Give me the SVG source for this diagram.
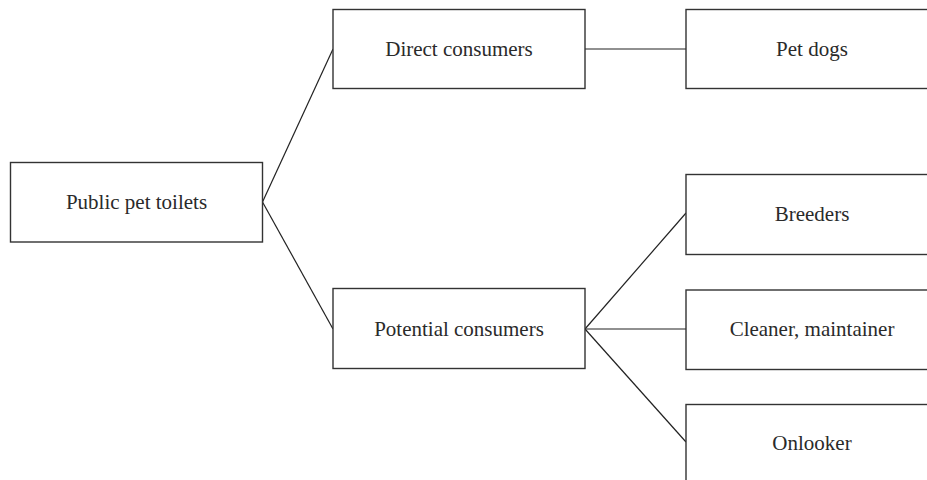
<svg xmlns="http://www.w3.org/2000/svg" width="927" height="480" viewBox="0 0 927 480">
<style>
.box{fill:#fff;stroke:#333;stroke-width:1.4}
.lbl{font-family:"Liberation Serif","Times New Roman",serif;font-size:21px;fill:#2a2a2a;text-anchor:middle}
.con{stroke:#222;stroke-width:1.2;fill:none}
</style>
<rect width="927" height="480" fill="#fff"/>
<g id="connectors">
<line class="con" x1="262.5" y1="202" x2="333" y2="49"/>
<line class="con" x1="262.5" y1="202" x2="333" y2="329"/>
<line class="con" x1="585" y1="49" x2="686" y2="49"/>
<line class="con" x1="585" y1="329" x2="686" y2="213"/>
<line class="con" x1="585" y1="329" x2="686" y2="329"/>
<line class="con" x1="585" y1="329" x2="686" y2="442"/>
</g>
<g id="public"><rect class="box" x="10.5" y="162.5" width="252" height="79.5"/><text class="lbl" x="136.5" y="209">Public pet toilets</text></g>
<g id="direct"><rect class="box" x="333" y="9.5" width="252" height="79"/><text class="lbl" x="459" y="56">Direct consumers</text></g>
<g id="potential"><rect class="box" x="333" y="288.5" width="252" height="80"/><text class="lbl" x="459" y="336">Potential consumers</text></g>
<g id="petdogs"><rect class="box" x="686" y="9.5" width="260" height="79"/><text class="lbl" x="812" y="56">Pet dogs</text></g>
<g id="breeders"><rect class="box" x="686" y="174.5" width="260" height="80"/><text class="lbl" x="812" y="221">Breeders</text></g>
<g id="cleaner"><rect class="box" x="686" y="290" width="260" height="79.5"/><text class="lbl" x="812" y="336">Cleaner, maintainer</text></g>
<g id="onlooker"><rect class="box" x="686" y="404.5" width="260" height="90"/><text class="lbl" x="812" y="450">Onlooker</text></g>
</svg>
